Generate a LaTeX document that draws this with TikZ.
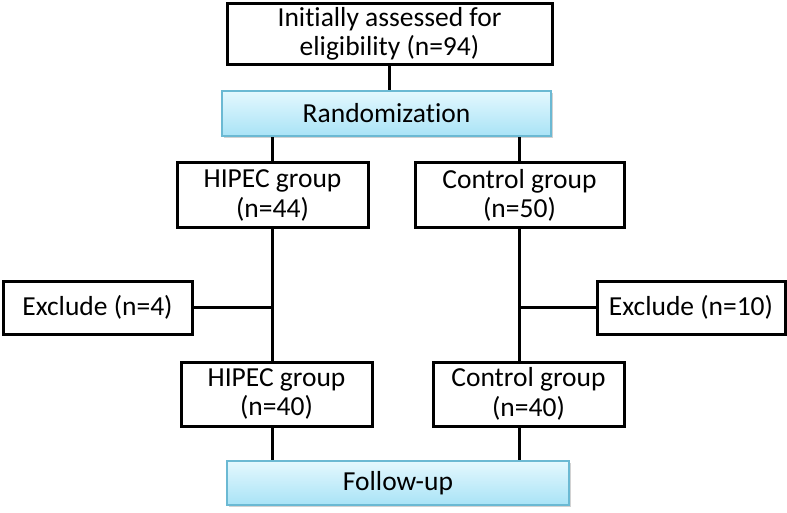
\documentclass[tikz,border=0pt]{standalone}
\usepackage{fontspec}
\setmainfont[Ligatures={NoCommon,NoRare}]{Carlito}
\usetikzlibrary{shadows}

\definecolor{cyantop}{HTML}{E4F8FE}
\definecolor{cyanbot}{HTML}{A9E3F6}
\definecolor{cyanedge}{HTML}{6BB9D3}

\tikzset{
  box/.style={draw=black, line width=3pt, align=center, inner sep=2pt,
    font=\fontsize{27.5}{29.5}\selectfont},
  bluebox/.style={draw=cyanedge, line width=1.3pt, top color=cyantop, bottom color=cyanbot,
    align=center, font=\fontsize{27.5}{29.5}\selectfont,
    drop shadow={shadow xshift=1.5pt, shadow yshift=-2pt, fill=black!35, opacity=0.5}},
  link/.style={line width=3pt}
}

\begin{document}
\begin{tikzpicture}[x=1pt,y=-1pt]
                    \useasboundingbox (0,0) rectangle (787,513);
                    % boxes
                    \node[box, minimum width=325pt, minimum height=61pt] (init) at (389.5,34) {Initially assessed for\\eligibility (n=94)};
                    \node[bluebox, minimum width=329pt, minimum height=45pt] (rand) at (386.5,113.5) {Randomization};
                    \node[box, minimum width=191pt, minimum height=65pt] (hipa) at (272.5,195.5) {HIPEC group\\(n=44)};
                    \node[box, minimum width=209pt, minimum height=65pt] (ctla) at (519.5,195.5) {Control group\\(n=50)};
                    \node[box, minimum width=189pt, minimum height=53pt] (exa) at (97.5,307.5) {Exclude (n=4)};
                    \node[box, minimum width=188pt, minimum height=53pt] (exb) at (691,307.5) {Exclude (n=10)};
                    \node[box, minimum width=191pt, minimum height=64pt] (hipb) at (276.5,394) {HIPEC group\\(n=40)};
                    \node[box, minimum width=191pt, minimum height=64pt] (ctlb) at (528.5,394) {Control group\\(n=40)};
                    \node[bluebox, minimum width=342pt, minimum height=44pt] (fol) at (398,483) {Follow-up};
                    % connectors
                    \draw[link] (init.south) -- (init.south |- rand.north);
                    \draw[link] (hipa.north) -- (hipa.north |- rand.south);
                    \draw[link] (ctla.north) -- (ctla.north |- rand.south);
                    \draw[link] (hipa.south) -- (hipa.south |- hipb.north);
                    \draw[link] (ctla.south) -- (ctla.south |- ctlb.north);
                    \draw[link] (exa.east) -- (exa.east -| hipa.south);
                    \draw[link] (exb.west) -- (exb.west -| ctla.south);
                    \draw[link] (hipa.south |- hipb.south) -- (hipa.south |- fol.north);
                    \draw[link] (ctla.south |- ctlb.south) -- (ctla.south |- fol.north);
\end{tikzpicture}
\end{document}
